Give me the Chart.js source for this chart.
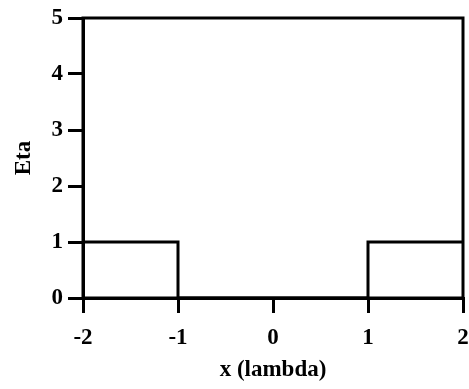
<!DOCTYPE html>
<html>
<head>
<meta charset="utf-8">
<script src="https://cdn.jsdelivr.net/npm/chart.js@4"></script>
<style>
  html, body { margin: 0; padding: 0; background: #fff; }
  #wrap { width: 469px; height: 389px; }
</style>
</head>
<body>
<div id="wrap"><canvas id="grafico"></canvas></div>
<script>
// step profile of eta against x
const xValores = [-2, -1, -1, 1, 1, 2];
const etaValores = [1, 1, 0, 0, 1, 1];
const xTicks = [-2, -1, 0, 1, 2];
const yTicks = [0, 1, 2, 3, 4, 5];

const fonte = { family: "'Liberation Serif', 'Times New Roman', serif", size: 23, weight: 'bold' };

// moldura do grafico (topo e direita)
const moldura = {
  id: 'moldura',
  afterDatasetsDraw(chart) {
    const { ctx, chartArea: a } = chart;
    ctx.save();
    ctx.strokeStyle = '#000';
    ctx.lineWidth = 3;
    ctx.strokeRect(a.left, a.top, a.right - a.left, a.bottom - a.top);
    ctx.restore();
  }
};

new Chart(document.getElementById('grafico'), {
  type: 'line',
  data: {
    datasets: [{
      label: 'Eta',
      data: xValores.map((x, i) => ({ x: x, y: etaValores[i] })),
      borderColor: '#000',
      borderWidth: 3,
      pointRadius: 0,
      fill: false,
      tension: 0
    }]
  },
  options: {
    responsive: true,
    maintainAspectRatio: false,
    animation: false,
    layout: { padding: { top: 18, right: 6, left: 0, bottom: 0 } },
    plugins: { legend: { display: false }, tooltip: { enabled: false } },
    scales: {
      x: {
        type: 'linear',
        min: -2, max: 2,
        afterBuildTicks: s => { s.ticks = xTicks.map(v => ({ value: v })); },
        afterFit: s => { s.height = 91; s.paddingLeft = 0; s.paddingRight = 0; },
        grid: { drawOnChartArea: false, color: '#000', lineWidth: 3, tickLength: 15 },
        border: { color: '#000', width: 3 },
        ticks: { color: '#000', font: fonte, padding: 11, maxRotation: 0 },
        title: { display: true, text: 'x (lambda)', color: '#000', font: fonte, padding: { top: 0, bottom: 5 } }
      },
      y: {
        min: 0, max: 5,
        afterBuildTicks: s => { s.ticks = yTicks.map(v => ({ value: v })); },
        afterFit: s => { s.width = 83; s.paddingTop = 0; s.paddingBottom = 0; },
        grid: { drawOnChartArea: false, color: '#000', lineWidth: 3, tickLength: 15 },
        border: { color: '#000', width: 3 },
        ticks: { color: '#000', font: fonte, padding: 5 },
        title: { display: true, text: 'Eta', color: '#000', font: fonte, padding: { top: 10, bottom: 0 } }
      }
    }
  },
  plugins: [moldura]
});
</script>
</body>
</html>
